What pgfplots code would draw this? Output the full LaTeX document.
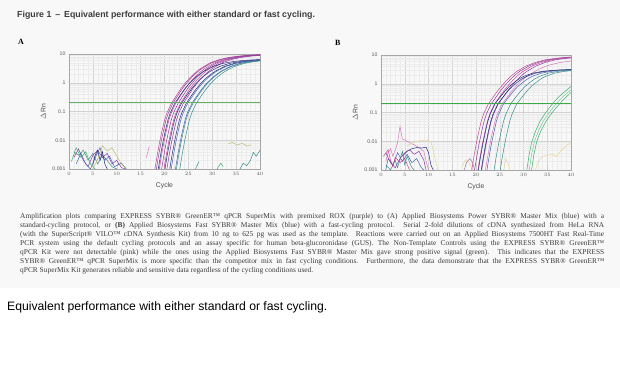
\documentclass[border=0pt]{standalone}
\usepackage{pgfplots}
\pgfplotsset{compat=1.18}
\usepackage{fontspec}
\setmainfont{Liberation Serif}
\setsansfont{Liberation Sans}
\definecolor{cmA}{RGB}{195,70,150}
\definecolor{cmB}{RGB}{140,60,160}
\definecolor{clp}{RGB}{215,120,185}
\definecolor{cnv}{RGB}{35,45,125}
\definecolor{cbl}{RGB}{70,100,175}
\definecolor{ctl}{RGB}{60,140,140}
\definecolor{cgr}{RGB}{60,175,110}
\definecolor{clgr}{RGB}{120,200,150}
\definecolor{cthr}{RGB}{100,175,95}
\definecolor{cthrb}{RGB}{60,170,70}
\definecolor{cbg}{RGB}{225,215,150}
\definecolor{col}{RGB}{190,185,110}
\definecolor{cgm}{RGB}{150,120,160}
\definecolor{bgfill}{RGB}{248,248,248}
\definecolor{txt}{RGB}{60,60,60}
\newcommand{\capline}[1]{\makebox[584pt][s]{#1}}
\begin{document}
\begin{tikzpicture}
\useasboundingbox (0pt,0pt) rectangle (620pt,367pt);
\fill[bgfill] (0pt,79pt) rectangle (620pt,367pt);

\node[anchor=base west, inner sep=0pt, font=\sffamily\bfseries\fontsize{8.8}{10}\selectfont, text=txt] at (17pt,349pt) {Figure 1 \,–\, Equivalent performance with either standard or fast cycling.};
\node[anchor=base west, inner sep=0pt, font=\bfseries\fontsize{8}{9}\selectfont] at (18pt,322pt) {A};
\node[anchor=base west, inner sep=0pt, font=\bfseries\fontsize{8}{9}\selectfont] at (335pt,321pt) {B};

% ---------------- Panel A ----------------
\begin{axis}[
    at={(69pt,198pt)}, anchor=south west,
    scale only axis, width=191pt, height=115pt,
    ymode=log, xmin=0, xmax=40, ymin=0.001, ymax=10,
    xtick={0,5,...,40}, minor x tick num=4,
    ytick={0.001,0.01,0.1,1,10}, yticklabels={0.001,0.01,0.1,1,10},
    grid=both,
    major grid style={gray!35, line width=0.3pt},
    minor grid style={gray!15, line width=0.2pt},
    axis line style={gray!70, line width=0.4pt},
    major tick length=0pt, minor tick length=0pt,
    tick label style={font=\sffamily\fontsize{5.2}{6}\selectfont, text=gray!70!black},
    xlabel={Cycle}, ylabel={$\Delta$Rn},
    label style={font=\sffamily\fontsize{6.8}{7}\selectfont, text=gray!60!black},
    every axis plot/.append style={line width=0.5pt},
  ]
% noise
\addplot[ctl] coordinates {(1,0.004)(2,0.003)(3,0.0045)(4,0.002)(5,0.0035)(6,0.0015)(7,0.003)(8,0.002)(9,0.0012)(10,0.001)};
\addplot[cmB] coordinates {(1,0.0025)(2,0.005)(3,0.002)(4,0.0012)(5,0.003)(6,0.0045)(7,0.0025)(8,0.0035)(9,0.0015)(10,0.002)(11,0.0011)(12,0.001)};
\addplot[cbl] coordinates {(1.5,0.0015)(2.5,0.0035)(3.5,0.0015)(4.5,0.001)(5.5,0.0025)(6.5,0.0055)(7,0.003)(7.5,0.002)(8.5,0.0028)(9.5,0.0012)(11,0.0016)(12,0.001)};
\addplot[col] coordinates {(5,0.001)(6,0.0022)(7,0.0065)(8,0.0042)(9,0.0055)(10,0.0028)(11,0.0015)(12,0.001)};
\addplot[cgr] coordinates {(0.5,0.0018)(1.5,0.0055)(2.5,0.0025)(3.5,0.004)(4.5,0.0015)(5.5,0.001)};
\addplot[cnv] coordinates {(5,0.0015)(5.5,0.003)(6,0.0045)(6.5,0.002)(7,0.004)(7.5,0.0015)(8,0.001)};
\addplot[clp] coordinates {(16.2,0.0025)(16.8,0.006)};
\addplot[col] coordinates {(33.4,0.0075)(34.2,0.0085)(35.2,0.0068)(36.3,0.0078)(37.3,0.0063)(38.1,0.007)};
\addplot[ctl] coordinates {(35.8,0.001)(36.5,0.0016)(37.2,0.0013)(38,0.002)(38.6,0.0038)(39.2,0.0028)(40,0.0045)};
\addplot[ctl] coordinates {(26.5,0.001)(27.2,0.0018)};
\addplot[cgr] coordinates {(31,0.001)(31.8,0.0016)(32.3,0.0012)};
% amplification curves
\addplot[cmA] coordinates {(18,0.001)(18.5,0.0032)(19,0.009)(19.5,0.022)(20,0.05)(20.5,0.089)(21.5,0.2)(22.5,0.36)(23.5,0.65)(24.5,1.05)(25.5,1.6)(26.5,2.3)(27.5,3.1)(29.5,4.9)(31.5,6.4)(33.5,7.6)(35.5,8.4)(37.5,9.0)(40,9.5)};
\addplot[cmA] coordinates {(18.9,0.001)(19.4,0.0032)(19.9,0.009)(20.4,0.022)(20.9,0.05)(21.4,0.089)(22.4,0.2)(23.4,0.36)(24.4,0.65)(25.4,1.05)(26.4,1.6)(27.4,2.3)(28.4,3.1)(30.4,4.9)(32.4,6.4)(34.4,7.6)(36.4,8.4)(38.4,9.0)(40,9.3)};
\addplot[cmA] coordinates {(19.9,0.001)(20.4,0.0032)(20.9,0.009)(21.4,0.022)(21.9,0.05)(22.4,0.089)(23.4,0.2)(24.4,0.36)(25.4,0.65)(26.4,1.05)(27.4,1.6)(28.4,2.3)(29.4,3.1)(31.4,4.9)(33.4,6.4)(35.4,7.6)(37.4,8.4)(39.4,9.0)(40,9.1)};
\addplot[cmB] coordinates {(18.3,0.001)(18.8,0.0032)(19.3,0.009)(19.8,0.022)(20.3,0.05)(20.8,0.089)(21.8,0.2)(22.8,0.36)(23.8,0.65)(24.8,1.05)(25.8,1.6)(26.8,2.3)(27.8,3.1)(29.8,4.9)(31.8,6.4)(33.8,7.6)(35.8,8.4)(37.8,9.0)(40,9.4)};
\addplot[cmB] coordinates {(19.4,0.001)(19.9,0.0032)(20.4,0.009)(20.9,0.022)(21.4,0.05)(21.9,0.089)(22.9,0.2)(23.9,0.36)(24.9,0.65)(25.9,1.05)(26.9,1.6)(27.9,2.3)(28.9,3.1)(30.9,4.9)(32.9,6.4)(34.9,7.6)(36.9,8.4)(38.9,9.0)(40,9.2)};
\addplot[cmB] coordinates {(20.5,0.001)(21,0.0032)(21.5,0.009)(22,0.022)(22.5,0.05)(23,0.089)(24,0.2)(25,0.36)(26,0.65)(27,1.05)(28,1.6)(29,2.3)(30,3.1)(32,4.9)(34,6.4)(36,7.6)(38,8.4)(40,9.0)};
\addplot[cnv] coordinates {(18.7,0.001)(19.2,0.0032)(19.7,0.009)(20.2,0.022)(20.7,0.05)(21.2,0.089)(22.2,0.2)(23.2,0.35)(24.2,0.6)(25.2,0.95)(26.2,1.4)(27.2,1.9)(28.2,2.5)(30.2,3.7)(32.2,4.7)(34.2,5.4)(36.2,5.9)(38.2,6.2)(40,6.4)};
\addplot[cnv] coordinates {(20.1,0.001)(20.6,0.0032)(21.1,0.009)(21.6,0.022)(22.1,0.05)(22.6,0.089)(23.6,0.2)(24.6,0.35)(25.6,0.6)(26.6,0.95)(27.6,1.4)(28.6,1.9)(29.6,2.5)(31.6,3.7)(33.6,4.7)(35.6,5.4)(37.6,5.9)(39.6,6.2)(40,6.25)};
\addplot[cnv] coordinates {(21.1,0.001)(21.6,0.0032)(22.1,0.009)(22.6,0.022)(23.1,0.05)(23.6,0.089)(24.6,0.2)(25.6,0.35)(26.6,0.6)(27.6,0.95)(28.6,1.4)(29.6,1.9)(30.6,2.5)(32.6,3.7)(34.6,4.7)(36.6,5.4)(38.6,5.9)(40,6.1)};
\addplot[cbl] coordinates {(21.4,0.001)(21.9,0.0032)(22.4,0.009)(22.9,0.022)(23.4,0.05)(23.9,0.089)(24.9,0.2)(25.9,0.35)(26.9,0.6)(27.9,0.95)(28.9,1.4)(29.9,1.9)(30.9,2.5)(32.9,3.7)(34.9,4.7)(36.9,5.4)(38.9,5.9)(40,6.05)};
\addplot[cbl] coordinates {(22.3,0.001)(22.8,0.0032)(23.3,0.009)(23.8,0.022)(24.3,0.05)(24.8,0.089)(25.8,0.2)(26.8,0.35)(27.8,0.6)(28.8,0.95)(29.8,1.4)(30.8,1.9)(31.8,2.5)(33.8,3.7)(35.8,4.7)(37.8,5.4)(39.8,5.9)(40,5.93)};
\addplot[ctl] coordinates {(22.5,0.001)(23,0.0032)(23.5,0.009)(24,0.022)(24.5,0.05)(25,0.089)(26,0.2)(27,0.35)(28,0.6)(29,0.95)(30,1.4)(31,1.9)(32,2.5)(34,3.7)(36,4.7)(38,5.4)(40,5.9)};
\addplot[ctl] coordinates {(23.2,0.001)(23.7,0.0032)(24.2,0.009)(24.7,0.022)(25.2,0.05)(25.7,0.089)(26.7,0.2)(27.7,0.35)(28.7,0.6)(29.7,0.95)(30.7,1.4)(31.7,1.9)(32.7,2.5)(34.7,3.7)(36.7,4.7)(38.7,5.4)(40,5.7)};
% threshold
\addplot[draw=cthr, line width=0.9pt, forget plot] coordinates {(0,0.2)(40,0.2)};
\end{axis}

% ---------------- Panel B ----------------
\begin{axis}[
    at={(381pt,197pt)}, anchor=south west,
    scale only axis, width=190pt, height=115pt,
    ymode=log, xmin=0, xmax=40, ymin=0.001, ymax=10,
    xtick={0,5,...,40}, minor x tick num=4,
    ytick={0.001,0.01,0.1,1,10}, yticklabels={0.001,0.01,0.1,1,10},
    grid=both,
    major grid style={gray!35, line width=0.3pt},
    minor grid style={gray!15, line width=0.2pt},
    axis line style={gray!70, line width=0.4pt},
    major tick length=0pt, minor tick length=0pt,
    tick label style={font=\sffamily\fontsize{5.2}{6}\selectfont, text=gray!70!black},
    xlabel={Cycle}, ylabel={$\Delta$Rn},
    label style={font=\sffamily\fontsize{6.8}{7}\selectfont, text=gray!60!black},
    every axis plot/.append style={line width=0.5pt},
  ]
% noise
\addplot[clp] coordinates {(1,0.002)(1.5,0.004)(2,0.0055)(2.5,0.003)(3,0.005)(3.5,0.009)(4,0.033)(4.5,0.012)(5,0.011)(6,0.009)(7,0.0075)(8,0.006)(9,0.0045)(9.5,0.002)(10,0.001)};
\addplot[cnv] coordinates {(4.5,0.003)(5.5,0.0045)(6.5,0.0055)(7.5,0.006)(8.5,0.0058)(9.5,0.0062)(10,0.004)(10.5,0.0015)(11,0.001)};
\addplot[cbl] coordinates {(1,0.001)(1.5,0.0025)(2.5,0.0015)(3.5,0.004)(4.5,0.002)(5.5,0.0035)(6.5,0.0018)(7.5,0.0025)(8.5,0.0012)(9,0.001)};
\addplot[ctl] coordinates {(1,0.0015)(2,0.001)(3,0.0022)(3.5,0.0012)(4.5,0.0045)(5,0.0015)(5.5,0.003)(6.5,0.0012)(7,0.001)};
\addplot[cmA] coordinates {(0.5,0.003)(1.5,0.005)(2,0.0022)(2.5,0.0013)(3,0.0028)(4,0.0018)(5,0.0025)(6,0.001)};
\addplot[cmB] coordinates {(1,0.004)(2,0.0018)(3,0.0012)(4,0.0025)(5,0.004)(6,0.005)(7,0.0035)(8,0.0045)(9,0.0022)(9.5,0.001)};
\addplot[cbg] coordinates {(5.5,0.007)(6.5,0.0085)(7.5,0.01)(8.5,0.0105)(9.5,0.011)(10.5,0.0095)(11,0.005)(11.5,0.002)(12,0.001)};
\addplot[cbg] coordinates {(17,0.0013)(17.8,0.0022)(18.5,0.0018)(19,0.0012)(19.3,0.001)};
\addplot[cbg] coordinates {(32.5,0.001)(33,0.0018)(34,0.003)(35,0.0032)(36,0.0035)(37,0.003)(38,0.005)(39,0.007)(40,0.009)};
\addplot[cbg] coordinates {(25.8,0.001)(26.3,0.0025)(26.8,0.0015)(27.2,0.001)};
\addplot[cgm] coordinates {(17.5,0.001)(18,0.0018)(18.7,0.0025)(19.3,0.0018)(19.7,0.001)};
% amplification curves
\addplot[cmA] coordinates {(19.1,0.001)(19.6,0.0032)(20.1,0.009)(20.6,0.022)(21.1,0.05)(21.6,0.089)(22.6,0.2)(23.6,0.34)(24.6,0.58)(25.6,0.92)(26.6,1.4)(27.6,2.0)(28.6,2.7)(30.6,4.2)(32.6,5.6)(34.6,6.8)(36.6,7.6)(38.6,8.2)(40,8.5)};
\addplot[cmB] coordinates {(19.7,0.001)(20.2,0.0032)(20.7,0.009)(21.2,0.022)(21.7,0.05)(22.2,0.089)(23.2,0.2)(24.2,0.34)(25.2,0.58)(26.2,0.92)(27.2,1.4)(28.2,2.0)(29.2,2.7)(31.2,4.2)(33.2,5.6)(35.2,6.8)(37.2,7.6)(39.2,8.2)(40,8.3)};
\addplot[cmA] coordinates {(20.4,0.001)(20.9,0.0032)(21.4,0.009)(21.9,0.022)(22.4,0.05)(22.9,0.089)(23.9,0.2)(24.9,0.34)(25.9,0.58)(26.9,0.92)(27.9,1.4)(28.9,2.0)(29.9,2.7)(31.9,4.2)(33.9,5.6)(35.9,6.8)(37.9,7.6)(40,8.15)};
\addplot[cmB] coordinates {(21.2,0.001)(21.7,0.0032)(22.2,0.009)(22.7,0.022)(23.2,0.05)(23.7,0.089)(24.7,0.2)(25.7,0.34)(26.7,0.58)(27.7,0.92)(28.7,1.4)(29.7,2.0)(30.7,2.7)(32.7,4.2)(34.7,5.6)(36.7,6.8)(38.7,7.6)(40,7.9)};
\addplot[clp] coordinates {(22,0.001)(22.5,0.0032)(23,0.009)(23.5,0.022)(24,0.05)(24.5,0.089)(25.5,0.2)(26.5,0.33)(27.5,0.55)(28.5,0.85)(29.5,1.25)(30.5,1.7)(31.5,2.2)(33.5,3.4)(35.5,4.5)(37.5,5.4)(40,6.2)};
\addplot[cnv] coordinates {(20.5,0.001)(21,0.0032)(21.5,0.009)(22,0.022)(22.5,0.05)(23,0.089)(24,0.2)(25,0.33)(26,0.53)(27,0.8)(28,1.1)(29,1.45)(30,1.8)(32,2.35)(34,2.7)(36,2.9)(38,3.05)(40,3.1)};
\addplot[cnv] coordinates {(21.1,0.001)(21.6,0.0032)(22.1,0.009)(22.6,0.022)(23.1,0.05)(23.6,0.089)(24.6,0.2)(25.6,0.33)(26.6,0.53)(27.6,0.8)(28.6,1.1)(29.6,1.45)(30.6,1.8)(32.6,2.35)(34.6,2.7)(36.6,2.9)(38.6,3.05)(40,3.08)};
\addplot[cbl] coordinates {(22.3,0.001)(22.8,0.0032)(23.3,0.009)(23.8,0.022)(24.3,0.05)(24.8,0.089)(25.8,0.2)(26.8,0.33)(27.8,0.53)(28.8,0.8)(29.8,1.1)(30.8,1.45)(31.8,1.8)(33.8,2.35)(35.8,2.7)(37.8,2.9)(40,3.0)};
\addplot[ctl] coordinates {(23.8,0.001)(24.3,0.0032)(24.8,0.009)(25.3,0.022)(25.8,0.05)(26.3,0.089)(27.3,0.2)(28.3,0.33)(29.3,0.53)(30.3,0.8)(31.3,1.1)(32.3,1.45)(33.3,1.8)(35.3,2.35)(37.3,2.7)(39.3,2.9)(40,2.95)};
\addplot[ctl] coordinates {(25.1,0.001)(25.6,0.0032)(26.1,0.009)(26.6,0.022)(27.1,0.05)(27.6,0.089)(28.6,0.2)(29.6,0.33)(30.6,0.53)(31.6,0.8)(32.6,1.1)(33.6,1.45)(34.6,1.8)(36.6,2.35)(38.6,2.7)(40,2.85)};
% NTC green
\addplot[cgr] coordinates {(30.7,0.001)(31.2,0.0035)(31.7,0.009)(32.5,0.022)(33.5,0.05)(34.5,0.09)(35.5,0.15)(36.5,0.24)(37.5,0.36)(38.5,0.5)(39.3,0.65)(40,0.8)};
\addplot[clgr] coordinates {(31.2,0.001)(31.7,0.0035)(32.3,0.01)(33.1,0.022)(34.1,0.048)(35.1,0.085)(36.1,0.14)(37.1,0.22)(38.1,0.33)(39.1,0.46)(40,0.62)};
\addplot[cgr] coordinates {(31.7,0.001)(32.2,0.0035)(32.8,0.01)(33.6,0.022)(34.6,0.045)(35.6,0.08)(36.6,0.13)(37.6,0.2)(38.6,0.3)(39.4,0.4)(40,0.5)};
% threshold
\addplot[draw=cthrb, line width=1.2pt, forget plot] coordinates {(0,0.2)(40,0.2)};
\end{axis}

% caption
\begin{scope}[every node/.style={anchor=base west, inner sep=0pt, font=\fontsize{7.4}{9}\selectfont, text=txt}]
\node at (20pt,148.8pt) {\capline{Amplification plots comparing EXPRESS SYBR® GreenER™ qPCR SuperMix with premixed ROX (purple) to (A) Applied Biosystems Power SYBR® Master Mix (blue) with a}};
\node at (20pt,139.7pt) {\capline{standard-cycling protocol, or \textbf{(B)} Applied Biosystems Fast SYBR® Master Mix (blue) with a fast-cycling protocol. Serial 2-fold dilutions of cDNA synthesized from HeLa RNA}};
\node at (20pt,130.6pt) {\capline{(with the SuperScript® VILO™ cDNA Synthesis Kit) from 10 ng to 625 pg was used as the template. Reactions were carried out on an Applied Biosystems 7500HT Fast Real-Time}};
\node at (20pt,121.5pt) {\capline{PCR system using the default cycling protocols and an assay specific for human beta-glucoronidase (GUS). The Non-Template Controls using the EXPRESS SYBR® GreenER™}};
\node at (20pt,112.5pt) {\capline{qPCR Kit were not detectable (pink) while the ones using the Applied Biosystems Fast SYBR® Master Mix gave strong positive signal (green). This indicates that the EXPRESS}};
\node at (20pt,103.4pt) {\capline{SYBR® GreenER™ qPCR SuperMix is more specific than the competitor mix in fast cycling conditions. Furthermore, the data demonstrate that the EXPRESS SYBR® GreenER™}};
\node at (20pt,94.3pt) {qPCR SuperMix Kit generates reliable and sensitive data regardless of the cycling conditions used.};
\end{scope}

\node[anchor=base west, inner sep=0pt, font=\sffamily\fontsize{12.2}{14}\selectfont] at (7pt,57pt) {Equivalent performance with either standard or fast cycling.};
\end{tikzpicture}
\end{document}
